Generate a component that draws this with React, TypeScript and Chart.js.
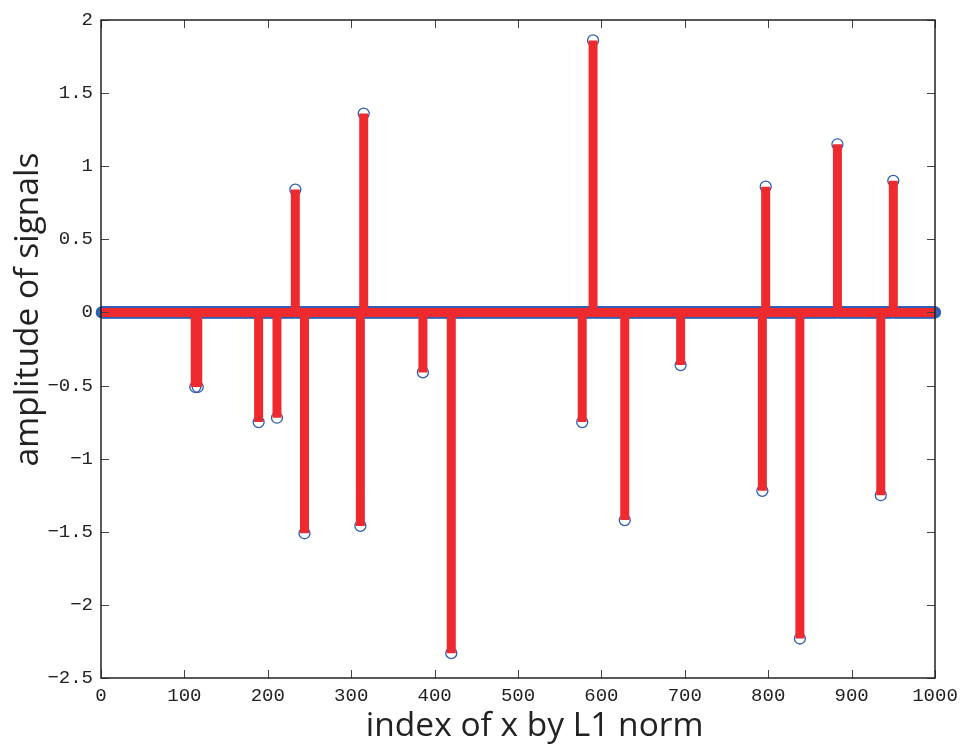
import React, { useEffect, useRef } from "react";
import { Chart, registerables } from "chart.js";

Chart.register(...registerables);

const N = 1000;
const spikeIndex = [113, 116, 189, 211, 233, 244, 311, 315, 386, 420, 577, 590, 628, 695, 793, 797, 838, 883, 935, 950];
const spikeValue = [-0.51, -0.51, -0.75, -0.72, 0.84, -1.51, -1.46, 1.36, -0.41, -2.33, -0.75, 1.86, -1.42, -0.36, -1.22, 0.86, -2.23, 1.15, -1.25, 0.9];
const xTicks = [0, 100, 200, 300, 400, 500, 600, 700, 800, 900, 1000];
const yTicks = [2, 1.5, 1, 0.5, 0, -0.5, -1, -1.5, -2, -2.5];
const xTitle = "index of x by L1 norm";
const yTitle = "amplitude of signals";

const RED = "#ee2a2e";
const BLUE = "#2f5fb3";
const TICK_FONT = "Liberation Mono";

export default function App() {
  const ref = useRef<HTMLCanvasElement | null>(null);

  useEffect(() => {
    document.body.style.margin = "0";
    const canvas = ref.current;
    if (!canvas) return;

    const signal: number[] = new Array(N).fill(0);
    spikeIndex.forEach((idx, k) => {
      signal[idx - 1] = spikeValue[k];
    });
    const points = signal.map((v, i) => ({ x: i + 1, y: v }));
    const stems: { x: number; y: number | null }[] = [];
    spikeIndex.forEach((idx, k) => {
      stems.push({ x: idx, y: 0 });
      stems.push({ x: idx, y: spikeValue[k] });
      stems.push({ x: idx, y: null });
    });
    const baseline = [
      { x: 0, y: 0 },
      { x: N, y: 0 },
    ];

    const framePlugin = {
      id: "frame",
      afterDraw(chart: any) {
        const { ctx, chartArea, scales } = chart;
        const { left, right, top, bottom } = chartArea;
        ctx.save();
        ctx.strokeStyle = "#444";
        ctx.lineWidth = 1;
        const tl = 8;
        xTicks.forEach((t) => {
          const px = Math.round(scales.x.getPixelForValue(t)) + 0.5;
          ctx.beginPath();
          ctx.moveTo(px, bottom);
          ctx.lineTo(px, bottom - tl);
          ctx.moveTo(px, top);
          ctx.lineTo(px, top + tl);
          ctx.stroke();
        });
        yTicks.forEach((t) => {
          const py = Math.round(scales.y.getPixelForValue(t)) + 0.5;
          ctx.beginPath();
          ctx.moveTo(left, py);
          ctx.lineTo(left + tl, py);
          ctx.moveTo(right, py);
          ctx.lineTo(right - tl, py);
          ctx.stroke();
        });
        ctx.strokeStyle = "#222";
        ctx.lineWidth = 1.5;
        ctx.strokeRect(left, top, right - left, bottom - top);

        ctx.fillStyle = "#222";
        ctx.font = '33.5px "Open Sans"';
        ctx.textAlign = "center";
        ctx.textBaseline = "middle";
        ctx.fillText(xTitle, left + (right - left) * 0.52, bottom + 48);
        ctx.translate(28, top + (bottom - top) * 0.44);
        ctx.rotate(-Math.PI / 2);
        ctx.fillText(yTitle, 0, 0);
        ctx.restore();
      },
    };

    const chart = new Chart(canvas, {
      type: "scatter",
      data: {
        datasets: [
          {
            type: "line",
            data: baseline,
            borderColor: RED,
            borderWidth: 9,
            pointRadius: 0,
            borderCapStyle: "butt",
            order: 0,
          } as any,
          {
            type: "line",
            data: stems,
            borderColor: RED,
            borderWidth: 9,
            pointRadius: 0,
            spanGaps: false,
            borderCapStyle: "butt",
            order: 0,
          } as any,
          {
            type: "scatter",
            data: points,
            pointRadius: 5.5,
            pointStyle: "circle",
            borderColor: BLUE,
            borderWidth: 1.3,
            backgroundColor: "rgba(255,255,255,0)",
            showLine: false,
            clip: false,
            order: 1,
          } as any,
        ],
      },
      options: {
        responsive: false,
        animation: false,
        events: [],
        layout: { padding: { top: 20, right: 25, left: 0, bottom: 0 } },
        plugins: {
          legend: { display: false },
          tooltip: { enabled: false },
          title: { display: false },
        },
        scales: {
          x: {
            type: "linear",
            min: 0,
            max: 1000,
            afterBuildTicks(scale: any) {
              scale.ticks = xTicks.map((v) => ({ value: v }));
            },
            afterFit(scale: any) {
              scale.height = 72;
              scale.paddingRight = 0;
              scale.paddingLeft = 0;
            },
            grid: { display: false, drawTicks: false },
            border: { display: false },
            ticks: {
              padding: 7,
              color: "#222",
              font: { family: TICK_FONT, size: 19 },
              maxRotation: 0,
              callback: (v: any) => String(v),
            },
          },
          y: {
            type: "linear",
            min: -2.5,
            max: 2,
            afterBuildTicks(scale: any) {
              scale.ticks = yTicks.map((v) => ({ value: v }));
            },
            afterFit(scale: any) {
              scale.width = 101;
              scale.paddingTop = 0;
              scale.paddingBottom = 0;
            },
            grid: { display: false, drawTicks: false },
            border: { display: false },
            ticks: {
              padding: 8,
              color: "#222",
              font: { family: TICK_FONT, size: 19 },
              callback: (v: any) => (v < 0 ? "\u2212" + String(-v) : String(v)),
            },
          },
        },
      },
      plugins: [framePlugin],
    } as any);

    return () => chart.destroy();
  }, []);

  return <canvas ref={ref} width={960} height={750} style={{ display: "block" }} />;
}
